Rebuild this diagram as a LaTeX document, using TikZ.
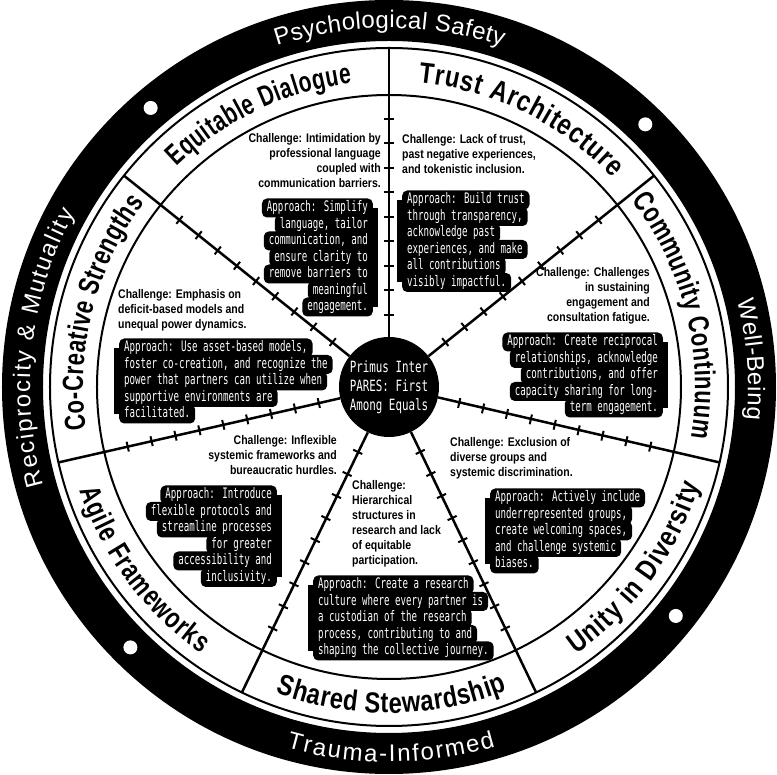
\documentclass[tikz,border=0pt]{standalone}
\usepackage{fontspec}
\usetikzlibrary{decorations.text}
\newfontfamily\chfont{Liberation Sans}[FakeStretch=0.84]
\newfontfamily\apfont{DejaVu Sans Mono}[FakeStretch=0.63]
\newfontfamily\cenfont{DejaVu Sans Mono}[FakeStretch=0.70]
\newfontfamily\labA{Liberation Sans}[FakeStretch=0.72]
\newfontfamily\labB{Liberation Sans}[FakeStretch=0.76]
\newfontfamily\labC{Liberation Sans}[FakeStretch=0.82]
\newfontfamily\ringfont{Liberation Sans}[FakeStretch=1.0]
\def\catA{\labA\bfseries\fontsize{29}{29}\selectfont}
\def\catB{\labB\bfseries\fontsize{29}{29}\selectfont}
\def\catC{\labC\bfseries\fontsize{29}{29}\selectfont}
\def\ringsty{\ringfont\fontsize{24}{24}\selectfont}
\tikzset{
  chline/.style={inner sep=0pt, font=\chfont\bfseries\fontsize{12.5}{15}\selectfont},
  apline/.style={fill=black, text=white, rounded corners=5pt, inner xsep=5pt, inner ysep=2pt,
    text height=11.5pt, text depth=3.5pt, font=\apfont\fontsize{14.5}{16.5}\selectfont},
  divider/.style={line width=2.5pt},
  tickmark/.style={line width=2pt},
  rim/.style={line width=2pt},
  hub/.style={circle, fill=black, minimum size=100pt, inner sep=0pt, text=white, align=center,
    font=\cenfont\fontsize{15.5}{19}\selectfont},
  arclab/.style={decorate, decoration={text along path, text align={fit to path}, text={#1}}},
  ringlab/.style={decorate, decoration={text along path, text align={fit to path}, text color=white, text={#1}}}
}
% challenge lines
\newcommand\chalR[4]{%
  \foreach \lineText [count=\k] in {#4} {
    \node[chline, anchor=base east] (#1-\k) at (#2,{#3+15*(\k-1)}) {\lineText};
  }}
\newcommand\chalL[4]{%
  \foreach \lineText [count=\k] in {#4} {
    \node[chline, anchor=base west] (#1-\k) at (#2,{#3+15*(\k-1)}) {\lineText};
  }}
% approach boxes
\newcommand\apR[4]{%
  \foreach \lineText [count=\k] in {#4} {
    \node[apline, anchor=base east] (#1-\k) at (#2,{#3+16.5*(\k-1)}) {\lineText};
    \xdef\lastk{\k}
  }
  \fill[black] ({#2+5-8},{#3-4}) rectangle ({#2+5},{#3+16.5*(\lastk-1)-4});}
\newcommand\apL[4]{%
  \foreach \lineText [count=\k] in {#4} {
    \node[apline, anchor=base west] (#1-\k) at (#2,{#3+16.5*(\k-1)}) {\lineText};
    \xdef\lastk{\k}
  }
  \fill[black] ({#2-5},{#3-4}) rectangle ({#2-5+8},{#3+16.5*(\lastk-1)-4});}
\begin{document}
\begin{tikzpicture}[x=1pt,y=1pt]
\useasboundingbox (-389,-388) rectangle (388,387);
\fill[white] (-389,-388) rectangle (388,387);
% outer ring
\fill[black, even odd rule] (0,0) circle[radius=387] (0,0) circle[radius=346];
\draw[rim] (0,0) circle[radius=339];
\draw[rim] (0,0) circle[radius=292];
% hub
\node[hub] (hub) at (0,0) {Primus Inter\\PARES: First\\Among Equals};
% dividers with ticks
\foreach \s in {0,...,6} {
  \pgfmathsetmacro\ang{90-\s*360/7}
  \coordinate (rim\s) at (\ang:339);
  \draw[divider] (hub.\ang) -- (rim\s);
  \foreach \j in {0,...,8} {
    \draw[tickmark] (\ang:{72+24.5*\j}) ++({\ang+90}:5) -- ++({\ang-90}:10);
  }
}
% white dots on ring
\foreach \a in {130.5,45.7,-38.6,225.2} \fill[white] (\a:367) circle[radius=7];
% ring labels
\path[ringlab={|\ringsty|Psychological Safety}] (108.2:359) arc[start angle=108.2, end angle=71.6, radius=359];
\path[ringlab={|\ringsty|Well-Being}] (13.9:359) arc[start angle=13.9, end angle=-5.2, radius=359];
\path[ringlab={|\ringsty|Reciprocity {\&} Mutuality}] (195.9:359) arc[start angle=195.9, end angle=151.1, radius=359];
\path[ringlab={|\ringsty|Trauma-Informed}] (254.1:375) arc[start angle=254.1, end angle=286.5, radius=375];
% category labels
\path[arclab={|\catA|Equitable Dialogue}] (134:306) arc[start angle=134, end angle=97, radius=306];
\path[arclab={|\catC|Trust Architecture}] (84.5:306) arc[start angle=84.5, end angle=43, radius=306];
\path[arclab={|\catB|Community Continuum}] (37.5:306) arc[start angle=37.5, end angle=-9.5, radius=306];
\path[arclab={|\catB|Co-Creative Strengths}] (188:306) arc[start angle=188, end angle=143, radius=306];
\path[arclab={|\catC|Unity in Diversity}] (-55:326) arc[start angle=-55, end angle=-17.5, radius=326];
\path[arclab={|\catC|Shared Stewardship}] (-110.3:326) arc[start angle=-110.3, end angle=-68.7, radius=326];
\path[arclab={|\catB|Agile Frameworks}] (198.5:326) arc[start angle=198.5, end angle=234.8, radius=326];
% texts (pixel coordinates)
\begin{scope}[x=1pt,y=-1pt,shift={(-389,-387)}]
\chalR{eqc}{381}{143}{{Challenge: Intimidation by},{professional language},{coupled with},{communication barriers.}}
\apR{eqa}{373}{212}{{Approach: Simplify},{language, tailor},{communication, and},{ensure clarity to},{remove barriers to},{meaningful},{engagement.}}
\chalL{trc}{402}{144}{{Challenge: Lack of trust,},{past negative experiences,},{and tokenistic inclusion.}}
\apL{tra}{402}{204}{{Approach: Build trust},{through transparency,},{acknowledge past},{experiences, and make},{all contributions},{visibly impactful.}}
\chalR{coc}{650}{277}{{Challenge: Challenges},{in sustaining},{engagement and},{consultation fatigue.}}
\apR{coa}{663}{346}{{Approach: Create reciprocal},{relationships, acknowledge},{contributions, and offer},{capacity sharing for long-},{term engagement.}}
\chalL{unc}{450}{447}{{Challenge: Exclusion of},{diverse groups and},{systemic discrimination.}}
\apL{una}{490}{502}{{Approach: Actively include},{underrepresented groups,},{create welcoming spaces,},{and challenge systemic},{biases.}}
\chalL{shc}{352}{490}{{Challenge:},{Hierarchical},{structures in},{research and lack},{of equitable},{participation.}}
\apL{sha}{313}{589}{{Approach: Create a research},{culture where every partner is},{a custodian of the research},{process, contributing to and},{shaping the collective journey.}}
\chalR{agc}{337}{445}{{Challenge: Inflexible},{systemic frameworks and},{bureaucratic hurdles.}}
\apR{aga}{277}{499}{{Approach: Introduce},{flexible protocols and},{streamline processes},{for greater},{accessibility and},{inclusivity.}}
\chalL{crc}{118}{299}{{Challenge: Emphasis on},{deficit-based models and},{unequal power dynamics.}}
\apL{cra}{119}{352}{{Approach: Use asset-based models,},{foster co-creation, and recognize the},{power that partners can utilize when},{supportive environments are},{facilitated.}}
\end{scope}
\end{tikzpicture}
\end{document}
